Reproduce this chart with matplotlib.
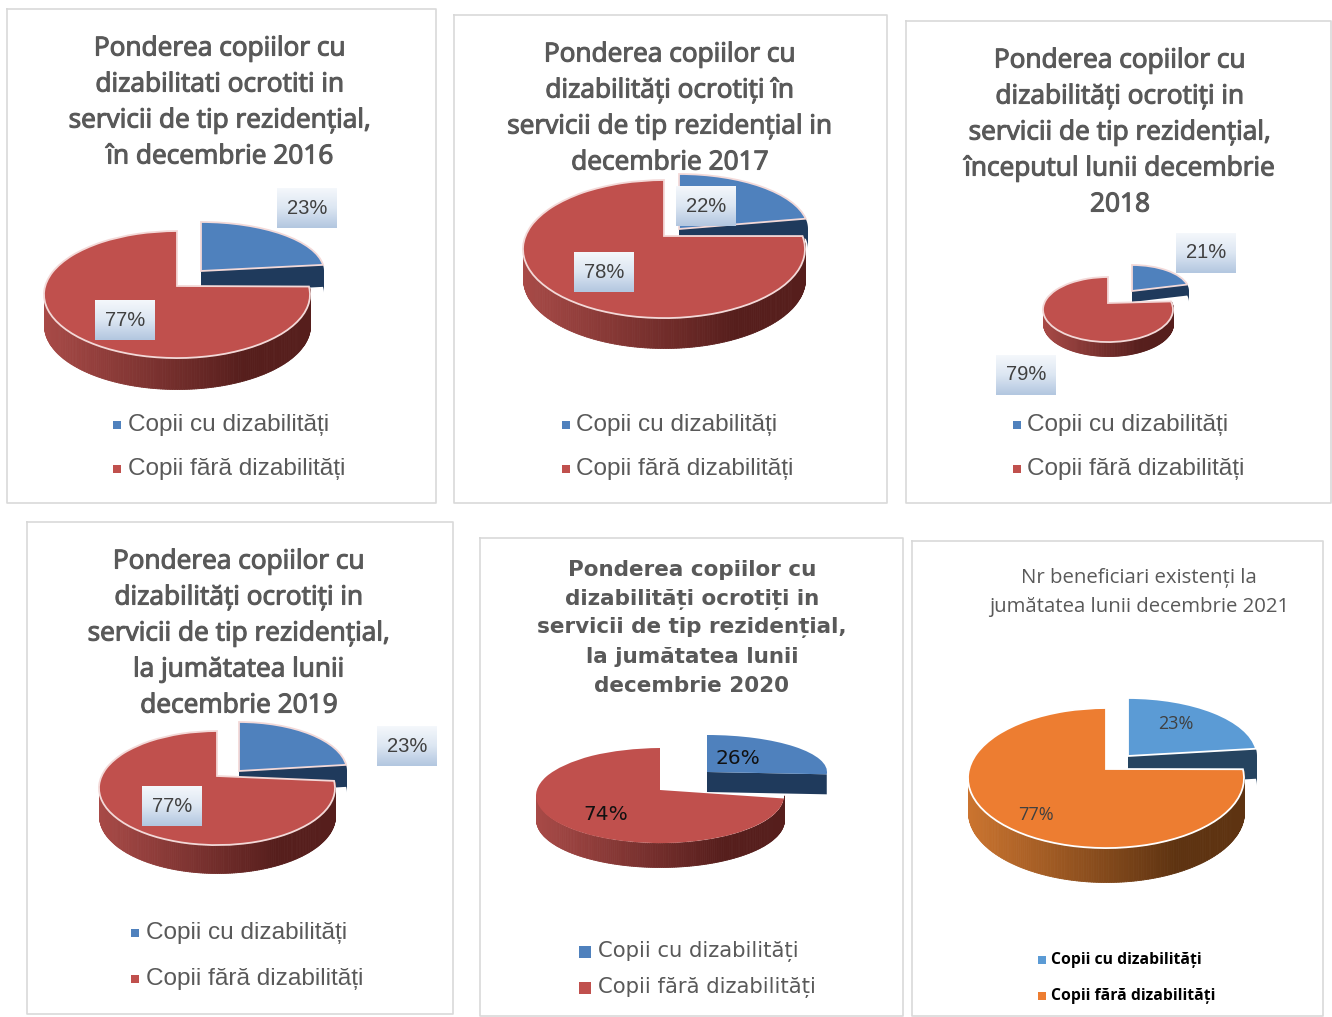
import matplotlib
matplotlib.use("Agg")
import matplotlib.pyplot as plt
import matplotlib.patheffects as pe
import numpy as np
from matplotlib.transforms import Affine2D, Transform
from matplotlib.colors import LinearSegmentedColormap

W, H = 1332, 1017

# values (percent)
years = [2016, 2017, 2018, 2019, 2020, 2021]
share_with = [23, 22, 21, 23, 26, 23]
share_without = [77, 78, 79, 77, 74, 77]
series_names = ["Copii cu dizabilități", "Copii fără dizabilități"]

titles = [
    ["Ponderea copiilor cu", "dizabilitati ocrotiti in", "servicii de tip rezidențial,", "în decembrie 2016"],
    ["Ponderea copiilor cu", "dizabilități ocrotiți în", "servicii de tip rezidențial in", "decembrie 2017"],
    ["Ponderea copiilor cu", "dizabilități ocrotiți in", "servicii de tip rezidențial,", "începutul lunii decembrie", "2018"],
    ["Ponderea copiilor cu", "dizabilități ocrotiți in", "servicii de tip rezidențial,", "la jumătatea lunii", "decembrie 2019"],
    ["Ponderea copiilor cu", "dizabilități ocrotiți in", "servicii de tip rezidențial,", "la jumătatea lunii", "decembrie 2020"],
    ["Nr beneficiari existenți la", "jumătatea lunii decembrie 2021"],
]

# layout, in pixels of the reference
frames = [(7, 9, 436, 503), (454, 15, 887, 503), (906, 21, 1331, 503),
          (27, 522, 453, 1014), (480, 538, 903, 1016), (912, 541, 1323, 1016)]
title_pos = [(220, 49, 36), (670, 55, 36), (1120, 61, 36),
             (239, 562, 36), (692, 570, 29), (1139, 578, 29)]
# red disc: vertex x, vertex y, rx, back radius, front radius, depth
discs = [(177, 286, 133, 55, 72, 31), (664, 236, 141, 56, 82, 30), (1108, 303, 65, 26, 39, 14),
         (217, 776, 118, 45, 69, 28), (660, 790, 124, 42, 53, 24), (1106, 769, 138, 61, 79, 34)]
# blue slice: vertex x, vertex y, rx, ry, depth
slices = [(201, 271, 123, 49, 22), (679, 229, 129, 55, 20), (1132, 291, 57, 26, 11),
          (239, 771, 108, 49, 22), (707, 772, 120, 37, 20), (1128, 756, 129, 58, 30)]
# label centres: with, without
label_pos = [((307, 208), (125, 320)), ((706, 206), (604, 272)), ((1206, 253), (1026, 375)),
             ((407, 746), (172, 806)), ((738, 758), (606, 815)), ((1176, 724), (1036, 815))]
boxed = [True, True, True, True, False, False]
legend_pos = [(117, 425, 469, 128), (566, 425, 469, 576), (1017, 425, 469, 1027),
              (135, 933, 979, 146), (585, 952, 988, 598), (1042, 960, 996, 1051)]

plain_colors = ("#4F81BD", "#C0504D", "#1F3A5C", "#A84A47", "#561E1C")
orange_colors = ("#5B9BD5", "#ED7D31", "#264460", "#CB742F", "#5E3311")


class Tilt(Transform):
    # rim stays an ellipse, its centre sits lower than the slice vertex, like a perspective view
    input_dims = output_dims = 2

    def __init__(self, back, front):
        super().__init__()
        self.scale_y = (back + front) / 2
        self.drop = (front - back) / 2

    def transform_non_affine(self, xy):
        xy = np.asarray(xy)
        return np.column_stack([xy[:, 0],
                                self.scale_y * xy[:, 1] - self.drop * (xy[:, 0] ** 2 + xy[:, 1] ** 2)])


plt.rcParams["font.family"] = ["Liberation Sans", "DejaVu Sans"]
fig = plt.figure(figsize=(W / 100, H / 100), dpi=100)
ax = fig.add_axes([0, 0, 1, 1])


def side_strips(disc, start, stop, left, right):
    # front wall of the disc, shaded by small strips around the rim
    cx, cy, rx, back, front, depth = disc
    cmap = LinearSegmentedColormap.from_list("wall", [left, right])
    t = np.radians(np.linspace(start, stop, 180))
    for i in range(len(t) - 1):
        xs = cx + rx * np.cos(t[i:i + 2])
        top = H - cy + (back + front) / 2 * np.sin(t[i:i + 2]) - (front - back) / 2
        c = cmap(min(1.0, max(0.0, (np.cos(t[i]) + 1) / 1.5)))
        ax.fill_between(xs, top - depth, top, color=c, lw=0.6, zorder=2)


for k in range(len(years)):
    c_blue, c_red, c_blue_side, c_left, c_right = orange_colors if k == 5 else plain_colors
    disc = discs[k]
    sl = slices[k]
    end_angle = 90 - 3.6 * share_with[k]
    edge = "none" if k == 4 else ("white" if k == 5 else "#F3D9D8")

    wedges, _ = ax.pie([share_with[k], share_without[k]], startangle=90, counterclock=False,
                       colors=[c_blue, c_red], frame=True,
                       wedgeprops={"edgecolor": edge, "linewidth": 1.3})
    blue, red = wedges
    blue.set_transform(Affine2D().scale(sl[2], sl[3]).translate(sl[0], H - sl[1]) + ax.transData)
    red.set_transform(Tilt(disc[3], disc[4]) + Affine2D().scale(disc[2], 1).translate(disc[0], H - disc[1]) + ax.transData)
    blue.set_zorder(1.5)
    red.set_zorder(3)

    # dark cut face under the blue slice
    arc = np.radians(np.linspace(end_angle, min(end_angle, 0), 8))
    fx = [sl[0]] + list(sl[0] + sl[2] * np.cos(arc))
    fy = [H - sl[1]] + list(H - sl[1] + sl[3] * np.sin(arc))
    ax.fill(fx + fx[::-1], fy + [v - sl[4] for v in fy[::-1]], facecolor=c_blue_side, lw=0, zorder=1.2)

    side_strips(disc, 180, 360 + max(end_angle, 0), c_left, c_right)

    # frame
    x0, y0, x1, y1 = frames[k]
    ax.plot([x0, x1, x1, x0, x0], [H - y0, H - y0, H - y1, H - y1, H - y0],
            color="#D9D9D9", lw=1.2, zorder=0.5)

    # title
    tx, ty, step = title_pos[k]
    for i, line in enumerate(titles[k]):
        if k == 5:
            ax.text(tx, H - ty - i * step, line, ha="center", va="center", fontsize=14.7,
                    color="#595959", family="Open Sans", zorder=6)
        elif k == 4:
            ax.text(tx, H - ty - i * step, line, ha="center", va="center", fontsize=15.5,
                    color="#595959", family="DejaVu Sans", fontweight="bold", zorder=6)
        else:
            ax.text(tx, H - ty - i * step, line, ha="center", va="center", fontsize=18.9,
                    color="#595959", family="Open Sans", zorder=6,
                    path_effects=[pe.withStroke(linewidth=0.8, foreground="#595959")])

    # value labels
    vals = [share_with[k], share_without[k]]
    for (lx, ly), v in zip(label_pos[k], vals):
        if boxed[k]:
            grad = np.linspace(0, 1, 40).reshape(-1, 1)
            cmap = LinearSegmentedColormap.from_list("box", ["#F4F7FB", "#DCE6F2", "#B3C7E0"])
            ax.imshow(grad, cmap=cmap, origin="upper", aspect="auto", zorder=4,
                      extent=(lx - 30, lx + 30, H - ly - 20, H - ly + 20))
        if k == 4:
            ax.text(lx, H - ly, f"{v}%", ha="center", va="center", fontsize=14.5,
                    family="DejaVu Sans", color="#111111", zorder=6)
        elif k == 5:
            ax.text(lx, H - ly, f"{v}%", ha="center", va="center", fontsize=13,
                    family="Open Sans", color="#404040", zorder=6)
        else:
            ax.text(lx, H - ly, f"{v}%", ha="center", va="center", fontsize=14.5,
                    color="#404040", zorder=6)

    # legend
    mx, ly0, ly1, tx0 = legend_pos[k]
    for y, name, col in zip((ly0, ly1), series_names, (c_blue, c_red)):
        size = 80 if k == 4 else (40 if k in (0, 1, 3) else 30)
        ax.scatter([mx], [H - y], marker="s", s=size, color=col, zorder=6, lw=0)
        if k == 5:
            ax.text(tx0, H - y, name, va="center", fontsize=11.3, fontweight="bold",
                    family="Open Sans", color="black", zorder=6)
        elif k == 4:
            ax.text(tx0, H - y, name, va="center", fontsize=15.2,
                    family="DejaVu Sans", color="#595959", zorder=6)
        else:
            ax.text(tx0, H - y, name, va="center", fontsize=17.6, color="#595959", zorder=6)

ax.set_aspect("auto")
ax.set_xlim(0, W)
ax.set_ylim(0, H)
ax.axis("off")
fig.savefig("out.png", dpi=100, facecolor="white")
